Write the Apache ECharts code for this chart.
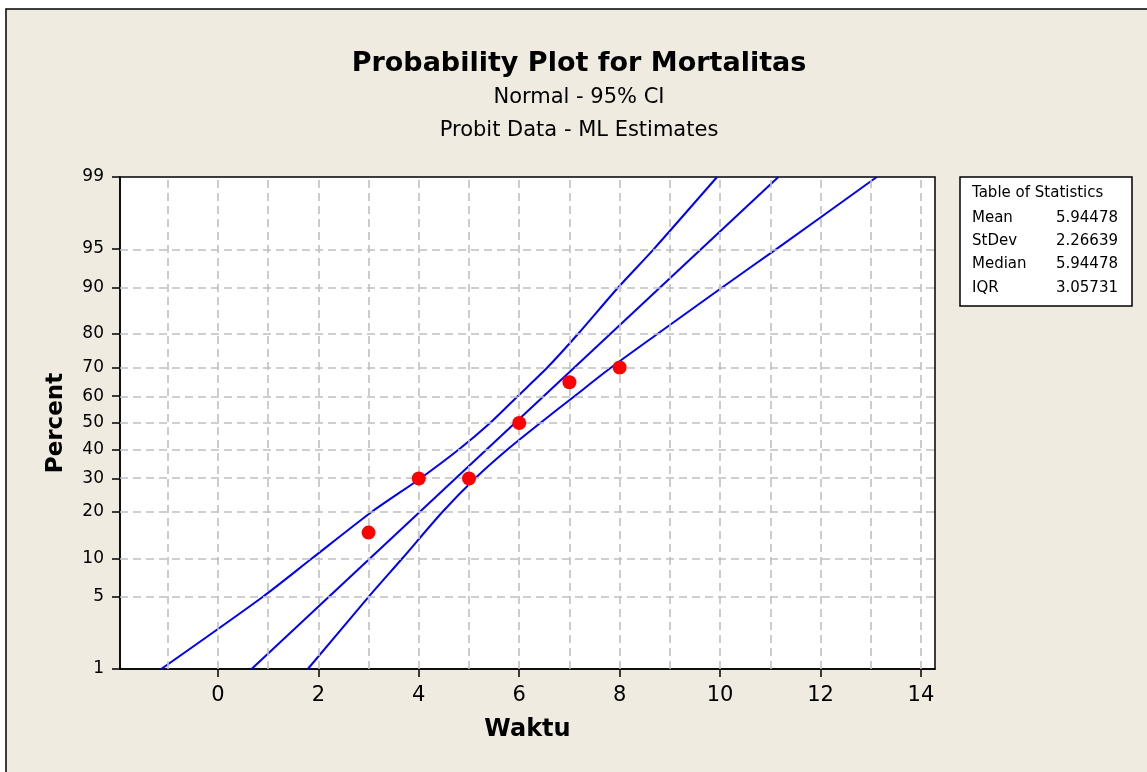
<!DOCTYPE html>
<html>
<head>
<meta charset="utf-8">
<title>Probability Plot for Mortalitas</title>
<script src="https://cdn.jsdelivr.net/npm/echarts@6/dist/echarts.min.js"></script>
<style>
  html, body { margin: 0; padding: 0; background: #fff; }
  #chart { width: 1147px; height: 772px; }
</style>
</head>
<body>
<div id="chart"></div>
<script>
// observed points (Waktu vs percent mortality)
var waktu = [3, 4, 5, 6, 7, 8];
var persen = [15, 30, 30, 50, 65, 70];

// fitted line, read where it leaves the plot at 1% and 99%
var fitX = [0.67, 11.16];
var fitP = [1, 99];

// 95% CI curves, x read where they cross each percent grid line
var ciP = [1, 5, 10, 20, 30, 40, 50, 60, 70, 80, 90, 95, 99];
var ciLowX = [-1.13, 0.89, 1.87, 3.06, 4.03, 4.79, 5.42, 5.97, 6.56, 7.17, 7.97, 8.68, 9.94];
var ciHighX = [1.79, 3.0, 3.67, 4.47, 5.12, 5.76, 6.42, 7.1, 7.83, 8.75, 10.04, 11.12, 13.12];

// axes
var pctTicks = [1, 5, 10, 20, 30, 40, 50, 60, 70, 80, 90, 95, 99];
var pctGrid = [5, 10, 20, 30, 40, 50, 60, 70, 80, 90, 95];
var xTicks = [0, 2, 4, 6, 8, 10, 12, 14];
var xGrid = [-1, 0, 1, 2, 3, 4, 5, 6, 7, 8, 9, 10, 11, 12, 13, 14];

// table of statistics
var statNames = ['Mean', 'StDev', 'Median', 'IQR'];
var statValues = ['5.94478', '2.26639', '5.94478', '3.05731'];

var FONT = '"DejaVu Sans", sans-serif';

// inverse normal cdf (percent -> z), used as the probability scale
function probit(pct) {
  var p = pct / 100;
  var a = [-3.969683028665376e+01, 2.209460984245205e+02, -2.759285104469687e+02, 1.383577518672690e+02, -3.066479806614716e+01, 2.506628277459239e+00];
  var b = [-5.447609879822406e+01, 1.615858368580409e+02, -1.556989798598866e+02, 6.680131188771972e+01, -1.328068155288572e+01];
  var c = [-7.784894002430293e-03, -3.223964580411365e-01, -2.400758277161838e+00, -2.549732539343734e+00, 4.374664141464968e+00, 2.938163982698783e+00];
  var d = [7.784695709041462e-03, 3.224671290700398e-01, 2.445134137142996e+00, 3.754408661907416e+00];
  var plow = 0.02425, q, r;
  if (p < plow) {
    q = Math.sqrt(-2 * Math.log(p));
    return (((((c[0]*q+c[1])*q+c[2])*q+c[3])*q+c[4])*q+c[5]) / ((((d[0]*q+d[1])*q+d[2])*q+d[3])*q+1);
  }
  if (p <= 1 - plow) {
    q = p - 0.5; r = q * q;
    return (((((a[0]*r+a[1])*r+a[2])*r+a[3])*r+a[4])*r+a[5])*q / (((((b[0]*r+b[1])*r+b[2])*r+b[3])*r+b[4])*r+1);
  }
  q = Math.sqrt(-2 * Math.log(1 - p));
  return -(((((c[0]*q+c[1])*q+c[2])*q+c[3])*q+c[4])*q+c[5]) / ((((d[0]*q+d[1])*q+d[2])*q+d[3])*q+1);
}

function pairs(xs, ps) {
  return xs.map(function (x, i) { return [x, probit(ps[i])]; });
}

var zTicks = pctTicks.map(probit);

var gridLines = xGrid.map(function (v) { return { xAxis: v }; })
  .concat(pctGrid.map(function (p) { return { yAxis: probit(p) }; }));

var blue = { color: '#0000FF', width: 2 };

var chart = echarts.init(document.getElementById('chart'));
var option = {
  animation: false,
  backgroundColor: '#ffffff',
  graphic: [
    { type: 'rect', z: -10, shape: { x: 6, y: 9, width: 1300, height: 900 },
      style: { fill: '#EFEBE1', stroke: '#000', lineWidth: 1.5 } },
    { type: 'text', x: 579, y: 64, style: { text: 'Probability Plot for Mortalitas', font: 'bold 27px ' + FONT, fill: '#000', textAlign: 'center', textVerticalAlign: 'middle' } },
    { type: 'text', x: 579, y: 98, style: { text: 'Normal - 95% CI', font: '21px ' + FONT, fill: '#000', textAlign: 'center', textVerticalAlign: 'middle' } },
    { type: 'text', x: 579, y: 131, style: { text: 'Probit Data - ML Estimates', font: '21px ' + FONT, fill: '#000', textAlign: 'center', textVerticalAlign: 'middle' } },
    { type: 'rect', shape: { x: 960, y: 177, width: 172, height: 129 },
      style: { fill: '#fff', stroke: '#000', lineWidth: 1.5 } },
    { type: 'text', x: 972, y: 193, style: { text: 'Table of Statistics', font: '15px ' + FONT, fill: '#000', textAlign: 'left', textVerticalAlign: 'middle' } }
  ].concat(statNames.map(function (n, i) {
    return { type: 'text', x: 972, y: 218 + i * 23.3, style: { text: n, font: '15px ' + FONT, fill: '#000', textAlign: 'left', textVerticalAlign: 'middle' } };
  })).concat(statValues.map(function (v, i) {
    return { type: 'text', x: 1118, y: 218 + i * 23.3, style: { text: v, font: '15px ' + FONT, fill: '#000', textAlign: 'right', textVerticalAlign: 'middle' } };
  })),
  grid: {
    left: 120, top: 177, width: 815, height: 492,
    show: true, backgroundColor: '#fff', borderColor: '#000', borderWidth: 1.5,
    outerBoundsMode: 'none'
  },
  xAxis: {
    type: 'value', min: -1.95, max: 14.28,
    name: 'Waktu', nameLocation: 'middle', nameGap: 49,
    nameTextStyle: { fontFamily: FONT, fontWeight: 'bold', fontSize: 24, color: '#000' },
    axisLine: { onZero: false, lineStyle: { color: '#000', width: 1.5 } },
    axisTick: { inside: false, length: 8, customValues: xTicks, lineStyle: { color: '#000', width: 1.5 } },
    axisLabel: { customValues: xTicks, fontFamily: FONT, fontSize: 21, color: '#000', margin: 16 },
    splitLine: { show: false }
  },
  yAxis: {
    type: 'value', min: probit(1), max: probit(99),
    name: 'Percent', nameLocation: 'middle', nameGap: 52,
    nameTextStyle: { fontFamily: FONT, fontWeight: 'bold', fontSize: 23, color: '#000' },
    axisLine: { onZero: false, lineStyle: { color: '#000', width: 1.5 } },
    axisTick: { inside: false, length: 8, customValues: zTicks, lineStyle: { color: '#000', width: 1.5 } },
    axisLabel: {
      customValues: zTicks, fontFamily: FONT, fontSize: 17, color: '#000', margin: 16,
      formatter: function (v) {
        var best = 0;
        for (var i = 1; i < zTicks.length; i++) {
          if (Math.abs(zTicks[i] - v) < Math.abs(zTicks[best] - v)) best = i;
        }
        return String(pctTicks[best]);
      }
    },
    splitLine: { show: false }
  },
  series: [
    {
      type: 'line', data: [], z: 1, silent: true,
      markLine: {
        silent: true, symbol: ['none', 'none'], label: { show: false },
        lineStyle: { color: '#C0C0C0', type: [8, 5], width: 1.6 },
        data: gridLines
      }
    },
    { type: 'line', data: pairs(ciLowX, ciP), symbol: 'none', smooth: 0.25, lineStyle: blue, z: 3 },
    { type: 'line', data: pairs(fitX, fitP), symbol: 'none', lineStyle: blue, z: 3 },
    { type: 'line', data: pairs(ciHighX, ciP), symbol: 'none', smooth: 0.25, lineStyle: blue, z: 3 },
    {
      type: 'scatter', data: pairs(waktu, persen), symbolSize: 14, z: 5,
      itemStyle: { color: '#FF0000', opacity: 1 }
    }
  ]
};
chart.setOption(option);
</script>
</body>
</html>
